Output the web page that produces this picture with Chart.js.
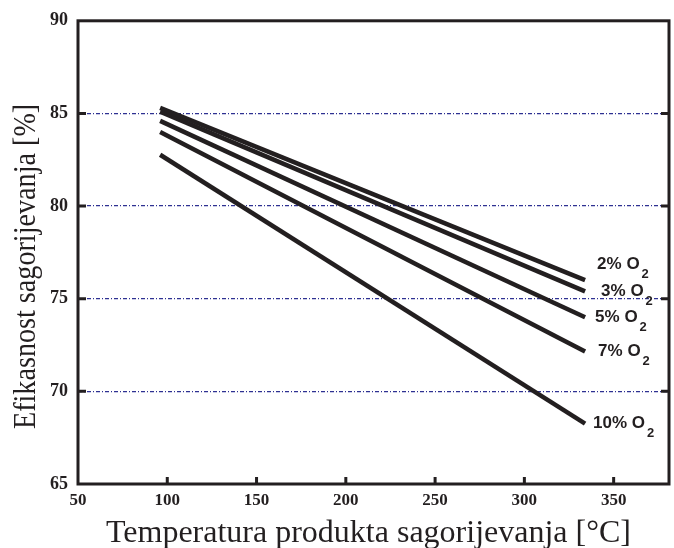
<!DOCTYPE html>
<html>
<head>
<meta charset="utf-8">
<script src="https://cdn.jsdelivr.net/npm/chart.js@4/dist/chart.umd.min.js"></script>
<style>
  html, body { margin: 0; padding: 0; background: #fff; }
  #wrap { width: 674px; height: 548px; }
</style>
</head>
<body>
<div id="wrap"><canvas id="chart" width="674" height="548"></canvas></div>
<script>
// data
const temps = [96, 334];
const seriesNames = ['2% O', '3% O', '5% O', '7% O', '10% O'];
const eff2 = [85.3, 76.0];
const eff3 = [85.1, 75.4];
const eff5 = [84.6, 74.0];
const eff7 = [84.0, 72.15];
const eff10 = [82.77, 68.26];
const xTicks = [50, 100, 150, 200, 250, 300, 350];
const yTicks = [65, 70, 75, 80, 85, 90];
const xTitle = 'Temperatura produkta sagorijevanja [°C]';
const yTitle = 'Efikasnost sagorijevanja [%]';

// label nudges (px), right of the line ends
const labelDx = [12, 16, 10, 13, 8];
const labelDy = [-16, 0, 0, 0, 0];

const INK = '#231f20';
const GRID = '#2e3192';
const SERIF = '"Liberation Serif", "Times New Roman", serif';
const SANS = '"Liberation Sans", Arial, sans-serif';
const allSeries = [eff2, eff3, eff5, eff7, eff10];

const frame = {
  id: 'frame',
  afterDatasetsDraw(chart) {
    const { ctx, chartArea: a, scales: { x, y } } = chart;
    ctx.save();
    ctx.strokeStyle = INK;
    ctx.lineWidth = 3;
    ctx.strokeRect(a.left, a.top, a.right - a.left, a.bottom - a.top);

    // inward tick marks
    ctx.beginPath();
    yTicks.slice(1, -1).forEach(v => {
      const py = y.getPixelForValue(v);
      ctx.moveTo(a.left, py); ctx.lineTo(a.left + 8, py);
      ctx.moveTo(a.right, py); ctx.lineTo(a.right - 8, py);
    });
    xTicks.slice(1).forEach(v => {
      const px = x.getPixelForValue(v);
      ctx.moveTo(px, a.bottom); ctx.lineTo(px, a.bottom - 7);
    });
    ctx.stroke();

    // series labels with subscript 2
    ctx.fillStyle = INK;
    ctx.textBaseline = 'middle';
    ctx.textAlign = 'left';
    allSeries.forEach((s, i) => {
      const px = x.getPixelForValue(temps[temps.length - 1]) + labelDx[i];
      const py = y.getPixelForValue(s[s.length - 1]) + labelDy[i];
      ctx.font = 'bold 17px ' + SANS;
      ctx.fillText(seriesNames[i], px, py);
      const w = ctx.measureText(seriesNames[i]).width;
      ctx.font = 'bold 13px ' + SANS;
      ctx.fillText('2', px + w + 2, py + 10);
    });

    // axis titles
    ctx.textAlign = 'center';
    ctx.textBaseline = 'alphabetic';
    ctx.font = '32px ' + SERIF;
    ctx.fillText(xTitle, (a.left + a.right) / 2 - 5, 542);

    ctx.translate(35, (a.top + a.bottom) / 2 + 14);
    ctx.rotate(-Math.PI / 2);
    ctx.scale(0.88, 1);
    ctx.fillText(yTitle, 0, 0);
    ctx.restore();
  }
};

new Chart(document.getElementById('chart'), {
  type: 'line',
  data: {
    labels: temps,
    datasets: allSeries.map((s, i) => ({
      label: seriesNames[i] + '2',
      data: s.map((v, j) => ({ x: temps[j], y: v })),
      borderColor: INK,
      borderWidth: 4.5,
      borderCapStyle: 'butt',
      pointRadius: 0,
      fill: false,
      tension: 0
    }))
  },
  options: {
    responsive: false,
    animation: false,
    layout: { padding: { top: 18, right: 5, left: 0, bottom: 0 } },
    plugins: { legend: { display: false }, tooltip: { enabled: false } },
    scales: {
      x: {
        type: 'linear',
        min: 50,
        max: 381,
        afterFit: s => { s.height = 64; },
        afterBuildTicks: s => { s.ticks = xTicks.map(v => ({ value: v })); },
        ticks: {
          color: INK,
          padding: 6,
          font: { family: SERIF, size: 17, weight: 'bold' }
        },
        grid: { display: false, drawTicks: false },
        border: { display: false }
      },
      y: {
        min: 65,
        max: 90,
        afterFit: s => { s.width = 78; },
        afterBuildTicks: s => { s.ticks = yTicks.map(v => ({ value: v })); },
        ticks: {
          color: INK,
          padding: 10,
          font: { family: SERIF, size: 18, weight: 'bold' }
        },
        grid: {
          drawTicks: false,
          lineWidth: 1.2,
          color: c => (c.tick && (c.tick.value === 65 || c.tick.value === 90)) ? 'rgba(0,0,0,0)' : GRID
        },
        border: { display: false, dash: [4, 2, 1, 2] }
      }
    }
  },
  plugins: [frame]
});
</script>
</body>
</html>
